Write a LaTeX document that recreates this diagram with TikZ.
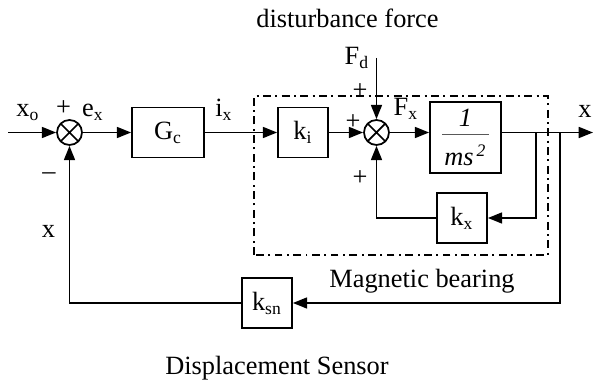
\documentclass[tikz,border=0pt]{standalone}
\usepackage{fontspec}
\setmainfont{Liberation Serif}
\usetikzlibrary{arrows.meta,calc}

\tikzset{
  blockbox/.style={draw, line width=0.8pt, minimum width=0.8cm, minimum height=0.8cm, inner sep=0pt},
  sumnode/.style={draw, circle, line width=0.8pt, minimum size=0.4cm, inner sep=0pt,
    path picture={\draw[line width=0.8pt] (path picture bounding box.north west) -- (path picture bounding box.south east)
      (path picture bounding box.north east) -- (path picture bounding box.south west);}},
  sig/.style={line width=0.8pt, -{Triangle[length=6.5pt,width=5pt]}},
  bearingframe/.style={line width=1pt, dash pattern=on 3.6pt off 2pt on 0.9pt off 2pt},
}

\begin{document}
\begin{tikzpicture}[x=0.8cm, y=0.8cm, font=\fontsize{12}{14}\selectfont]
  \useasboundingbox (0,0) rectangle (11.88,7.62);
  % magnetic bearing frame
  \draw[bearingframe] (5.08,2.52) rectangle (10.96,5.70);
  \node[anchor=base] (lbl-bearing) at (8.44,1.86) {Magnetic bearing};
  \node[anchor=base] (lbl-sensor) at (5.54,0.12) {Displacement Sensor};
  \node[anchor=base] (lbl-dist) at (6.95,7.06) {disturbance force};

  % blocks
  \node[sumnode] (sum1) at (1.39,4.97) {};
  \node[blockbox, minimum width=1.152cm] (gc) at (3.36,4.97) {G\textsubscript{c}};
  \node[blockbox] (ki) at (6.06,4.97) {k\textsubscript{i}};
  \node[sumnode] (sum2) at (7.53,4.97) {};
  \node[blockbox, minimum size=1.136cm, align=center] (plant) at (9.31,4.87)
    {\textit{1}\\[-8pt]{\color{black!65}\rule[2pt]{0.74cm}{0.7pt}}\\[-2pt]\textit{ms}\textsuperscript{\,\textit{2}}};
  \node[blockbox] (kx) at (9.24,3.26) {k\textsubscript{x}};
  \node[blockbox] (ksn) at (5.34,1.56) {k\textsubscript{sn}};

  % signal points
  \coordinate (in) at (0.16,4.97);
  \coordinate (fd) at (7.53,6.46);
  \coordinate (b1) at (10.72,4.97);
  \coordinate (b2) at (11.20,4.97);
  \coordinate (out) at (11.86,4.97);

  % forward path
  \draw[sig] (in) -- (sum1.west);
  \draw[sig] (sum1.east) -- (gc.west);
  \draw[sig] (gc.east) -- (ki.west);
  \draw[sig] (ki.east) -- (sum2.west);
  \draw[sig] (fd) -- (sum2.north);
  \draw[sig] (sum2.east) -- (plant.west |- sum2);
  \draw[sig] (plant.east |- sum2) -- (out);
  % feedback loops
  \draw[sig] (b1) |- (kx.east);
  \draw[sig] (kx.west) -| (sum2.south);
  \draw[sig] (b2) |- (ksn.east);
  \draw[sig] (ksn.west) -| (sum1.south);

  % signal labels
  \node[anchor=base] (lbl-xo) at (0.56,5.28) {x\textsubscript{o}};
  \node (lbl-p1) at (1.27,5.46) {+};
  \node[anchor=base] (lbl-ex) at (1.86,5.28) {e\textsubscript{x}};
  \node (lbl-m1) at (0.98,4.10) {\textendash};
  \node[anchor=base] (lbl-xfb) at (0.97,2.86) {x};
  \node[anchor=base] (lbl-ix) at (4.48,5.28) {i\textsubscript{x}};
  \node[anchor=base] (lbl-fd) at (7.14,6.32) {F\textsubscript{d}};
  \node (lbl-p2) at (7.20,5.80) {+};
  \node (lbl-p3) at (7.06,5.18) {+};
  \node (lbl-p4) at (7.20,4.06) {+};
  \node[anchor=base] (lbl-fx) at (8.12,5.30) {F\textsubscript{x}};
  \node[anchor=base] (lbl-xout) at (11.70,5.26) {x};
\end{tikzpicture}
\end{document}
